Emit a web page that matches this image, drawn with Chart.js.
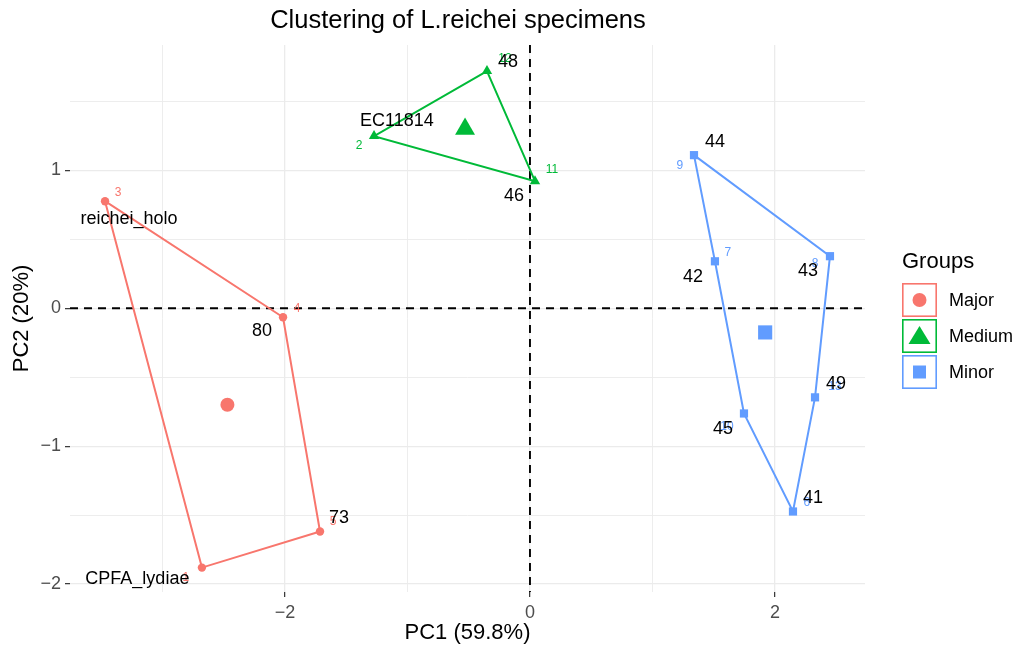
<!DOCTYPE html>
<html>
<head>
<meta charset="utf-8">
<script src="https://cdn.jsdelivr.net/npm/chart.js@4/dist/chart.umd.min.js"></script>
<style>
  html, body { margin: 0; padding: 0; background: #fff; }
  #wrap { width: 1017px; height: 647px; }
</style>
</head>
<body>
<div id="wrap"><canvas id="chart" width="1017" height="647"></canvas></div>
<script>
const FONT = '"Liberation Sans", Arial, Helvetica, sans-serif';

const groups = ["Major", "Medium", "Minor"];
const colors = ["#F8766D", "#00BA38", "#619CFF"];
const shapes = ["circle", "triangle", "rect"];

// points per group, listed in hull order
const majorX = [-3.469, -2.016, -1.714, -2.678];
const majorY = [0.777, -0.065, -1.619, -1.881];
const majorIds = ["3", "4", "5", "1"];
const majorNames = ["reichei_holo", "80", "73", "CPFA_lydiae"];

const mediumX = [-0.351, -1.273, 0.041];
const mediumY = [1.721, 1.249, 0.922];
const mediumIds = ["12", "2", "11"];
const mediumNames = ["48", "EC11814", "46"];

const minorX = [1.339, 2.449, 2.327, 2.147, 1.747, 1.51];
const minorY = [1.111, 0.378, -0.646, -1.474, -0.763, 0.341];
const minorIds = ["9", "8", "13", "6", "10", "7"];
const minorNames = ["44", "43", "49", "41", "45", "42"];

const centerX = [-2.47, -0.53, 1.92];
const centerY = [-0.7, 1.3, -0.175];

// where the text labels sit (data units)
const idLabelX = [[-3.363, -1.902, -1.608, -2.81], [-0.204, -1.396, 0.18], [1.224, 2.327, 2.49, 2.261, 1.608, 1.616]];
const idLabelY = [[0.842, 0, -1.547, -1.954], [1.808, 1.176, 1.002], [1.038, 0.327, -0.566, -1.409, -0.857, 0.407]];
const nameLabelX = [[-3.273, -2.188, -1.559, -3.205], [-0.18, -1.086, -0.131], [1.51, 2.269, 2.498, 2.31, 1.576, 1.331]];
const nameLabelY = [[0.646, -0.167, -1.525, -1.961], [1.787, 1.358, 0.813], [1.206, 0.269, -0.552, -1.373, -0.879, 0.225]];

const xTicks = [-3, -2, -1, 0, 1, 2];
const yTicks = [-2, -1.5, -1, -0.5, 0, 0.5, 1, 1.5];

const allX = [majorX, mediumX, minorX];
const allY = [majorY, mediumY, minorY];
const allIds = [majorIds, mediumIds, minorIds];
const allNames = [majorNames, mediumNames, minorNames];

const pts = (xs, ys) => xs.map((x, i) => ({ x, y: ys[i] }));

const datasets = [];
groups.forEach((g, k) => {
  const p = pts(allX[k], allY[k]);
  datasets.push({
    type: "line",
    label: g + " hull",
    data: p.concat([p[0]]),
    borderColor: colors[k],
    borderWidth: 2,
    pointRadius: 0,
    fill: false,
    tension: 0,
  });
});
const vertexRadius = [4.2, 6, 5.8];
const centerRadius = [7, 11.5, 10];
groups.forEach((g, k) => {
  datasets.push({
    type: "scatter",
    label: g,
    data: pts(allX[k], allY[k]),
    pointStyle: shapes[k],
    pointRadius: vertexRadius[k],
    backgroundColor: colors[k],
    borderWidth: 0,
  });
});
groups.forEach((g, k) => {
  datasets.push({
    type: "scatter",
    label: g + " center",
    data: [{ x: centerX[k], y: centerY[k] }],
    pointStyle: shapes[k],
    pointRadius: centerRadius[k],
    backgroundColor: colors[k],
    borderWidth: 0,
  });
});

const minus = (v) => (v < 0 ? "\u2212" + Math.abs(v) : String(v));

const decor = {
  id: "decor",
  beforeDatasetsDraw(chart) {
    const { ctx, chartArea: a, scales: { x, y } } = chart;
    ctx.save();
    ctx.strokeStyle = "#000";
    ctx.lineWidth = 1.9;
    ctx.setLineDash([8, 6]);
    ctx.beginPath();
    ctx.moveTo(x.getPixelForValue(0), a.top);
    ctx.lineTo(x.getPixelForValue(0), a.bottom);
    ctx.moveTo(a.left, y.getPixelForValue(0));
    ctx.lineTo(a.right, y.getPixelForValue(0));
    ctx.stroke();
    ctx.restore();
  },
  afterDatasetsDraw(chart) {
    const { ctx, scales: { x, y } } = chart;
    ctx.save();
    ctx.textAlign = "center";
    ctx.textBaseline = "middle";
    ctx.font = "12px " + FONT;
    groups.forEach((g, k) => {
      ctx.fillStyle = colors[k];
      allIds[k].forEach((t, i) => {
        ctx.fillText(t, x.getPixelForValue(idLabelX[k][i]), y.getPixelForValue(idLabelY[k][i]));
      });
    });
    ctx.font = "18px " + FONT;
    ctx.fillStyle = "#000";
    groups.forEach((g, k) => {
      allNames[k].forEach((t, i) => {
        ctx.fillText(t, x.getPixelForValue(nameLabelX[k][i]), y.getPixelForValue(nameLabelY[k][i]));
      });
    });
    ctx.restore();
  },
  afterDraw(chart) {
    const { ctx, chartArea: a } = chart;
    ctx.save();
    ctx.fillStyle = "#000";
    ctx.textAlign = "center";
    ctx.textBaseline = "middle";
    ctx.font = "25.5px " + FONT;
    ctx.fillText("Clustering of L.reichei specimens", 458, 21);
    ctx.font = "22px " + FONT;
    ctx.fillText("PC1 (59.8%)", (a.left + a.right) / 2, 633);
    ctx.save();
    ctx.translate(22, (a.top + a.bottom) / 2);
    ctx.rotate(-Math.PI / 2);
    ctx.fillText("PC2 (20%)", 0, 0);
    ctx.restore();

    // legend
    ctx.textAlign = "left";
    ctx.font = "22px " + FONT;
    ctx.fillText("Groups", 902, 262);
    ctx.font = "18px " + FONT;
    groups.forEach((g, k) => {
      const bx = 902, by = 283 + k * 36, bw = 35, bh = 34;
      ctx.strokeStyle = colors[k];
      ctx.lineWidth = 1.6;
      ctx.strokeRect(bx + 0.8, by + 0.8, bw - 1.6, bh - 1.6);
      ctx.fillStyle = colors[k];
      const cx = bx + bw / 2, cy = by + bh / 2;
      ctx.beginPath();
      if (k === 0) {
        ctx.arc(cx, cy, 7, 0, Math.PI * 2);
      } else if (k === 1) {
        ctx.moveTo(cx, cy - 10);
        ctx.lineTo(cx + 11, cy + 8);
        ctx.lineTo(cx - 11, cy + 8);
        ctx.closePath();
      } else {
        ctx.rect(cx - 6.5, cy - 6.5, 13, 13);
      }
      ctx.fill();
      ctx.fillStyle = "#000";
      ctx.fillText(g, 949, cy + 1);
    });
    ctx.restore();
  },
};

const gridColor = "#EBEBEB";

new Chart(document.getElementById("chart").getContext("2d"), {
  data: { datasets },
  options: {
    responsive: false,
    animation: false,
    layout: { padding: { left: 0, top: 45, right: 152, bottom: 0 } },
    plugins: { legend: { display: false }, tooltip: { enabled: false } },
    scales: {
      x: {
        type: "linear",
        min: -3.755,
        max: 2.735,
        afterBuildTicks: (s) => { s.ticks = xTicks.map((v) => ({ value: v })); },
        afterFit: (s) => { s.height = 55; },
        border: { display: false },
        grid: {
          color: gridColor,
          lineWidth: (c) => (c.tick && c.tick.value % 2 === 0 ? 1.3 : 0.9),
          tickLength: 5,
          tickWidth: 1.2,
          tickColor: (c) => (c.tick && c.tick.value % 2 === 0 ? "#333" : "rgba(0,0,0,0)"),
        },
        ticks: {
          color: "#4D4D4D",
          font: { family: FONT, size: 18 },
          padding: 5,
          maxRotation: 0,
          autoSkip: false,
          callback: (v) => (v % 2 === 0 ? minus(v) : ""),
        },
      },
      y: {
        type: "linear",
        min: -2.058,
        max: 1.91,
        afterBuildTicks: (s) => { s.ticks = yTicks.map((v) => ({ value: v })); },
        afterFit: (s) => { s.width = 70; },
        border: { display: false },
        grid: {
          color: gridColor,
          lineWidth: (c) => (c.tick && Number.isInteger(c.tick.value) ? 1.3 : 0.9),
          tickLength: 5,
          tickWidth: 1.2,
          tickColor: (c) => (c.tick && Number.isInteger(c.tick.value) ? "#333" : "rgba(0,0,0,0)"),
        },
        ticks: {
          color: "#4D4D4D",
          font: { family: FONT, size: 18 },
          padding: 4,
          autoSkip: false,
          callback: (v) => (Number.isInteger(v) ? minus(v) : ""),
        },
      },
    },
  },
  plugins: [decor],
});
</script>
</body>
</html>
